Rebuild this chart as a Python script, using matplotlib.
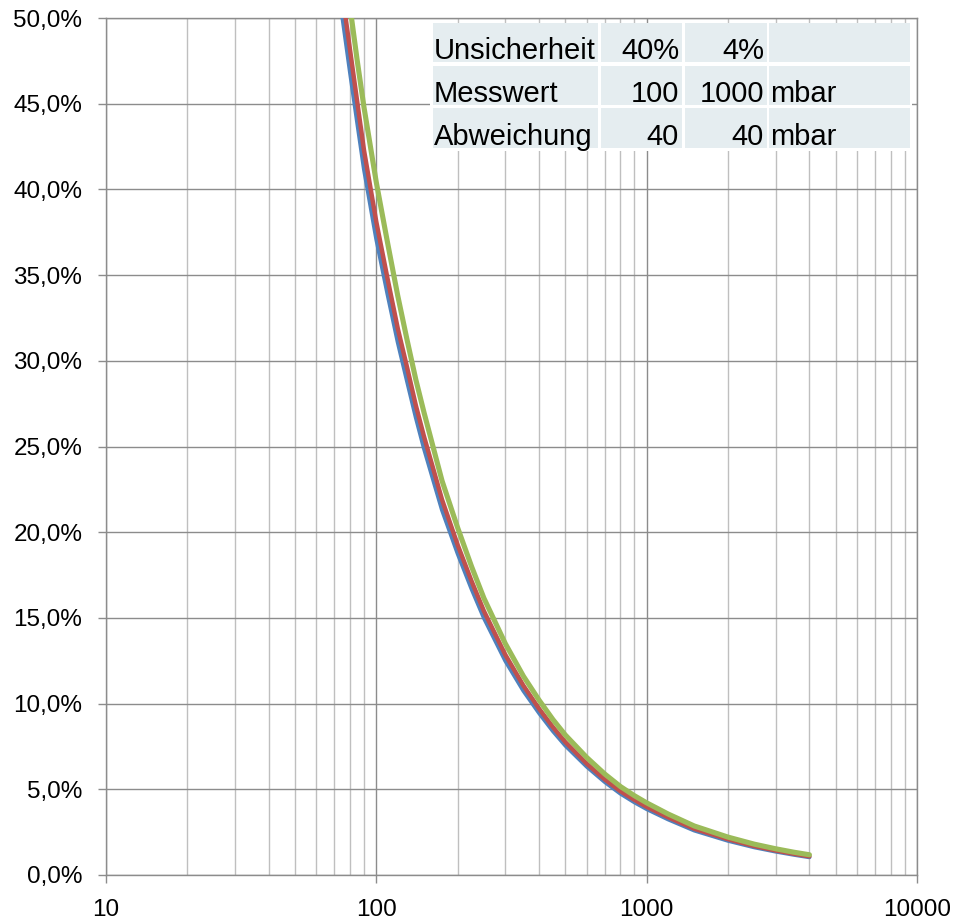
import matplotlib.pyplot as plt
import numpy as np
from matplotlib.patches import Rectangle
from matplotlib.ticker import FixedLocator, FuncFormatter, LogLocator, NullFormatter

plt.rcParams['font.family'] = ['Liberation Sans', 'DejaVu Sans']

# pressure (mbar) and relative uncertainty (%)
druck = [60, 65, 70, 75, 80, 85, 90, 100, 110, 120, 130, 140, 150, 175, 200,
         225, 250, 300, 350, 400, 450, 500, 600, 700, 800, 900, 1000, 1200,
         1500, 2000, 2500, 3000, 3500, 4000]
blau = [62.0, 57.5, 53.5, 50.0, 46.8, 43.9, 41.2, 37.1, 33.9, 31.1, 28.8, 26.7,
        24.9, 21.3, 18.75, 16.7, 15.0, 12.5, 10.75, 9.45, 8.4, 7.56, 6.33, 5.43,
        4.75, 4.25, 3.85, 3.25, 2.6, 2.0, 1.62, 1.37, 1.185, 1.04]
rot = [63.7, 59.1, 54.9, 51.3, 48.1, 45.1, 42.3, 38.1, 34.8, 31.9, 29.6, 27.4,
       25.6, 21.9, 19.25, 17.15, 15.4, 12.85, 11.05, 9.7, 8.63, 7.76, 6.5, 5.58,
       4.89, 4.39, 3.98, 3.37, 2.7, 2.09, 1.69, 1.43, 1.24, 1.09]
gruen = [67.0, 62.1, 57.8, 54.0, 50.6, 47.5, 44.8, 40.4, 36.9, 33.8, 31.2, 28.9,
         27.0, 23.0, 20.25, 18.0, 16.15, 13.5, 11.6, 10.2, 9.07, 8.17, 6.86,
         5.89, 5.16, 4.63, 4.21, 3.56, 2.86, 2.21, 1.8, 1.53, 1.33, 1.18]

# table in the top right corner
tab_label = ["Unsicherheit", "Messwert", "Abweichung"]
tab_a = ["40%", "100", "40"]
tab_b = ["4%", "1000", "40"]
tab_unit = ["", "mbar", "mbar"]

W, H = 956, 923
fig = plt.figure(figsize=(W / 100, H / 100), dpi=100)
ax = fig.add_axes([106 / W, 1 - 875 / H, (917 - 106) / W, (875 - 18) / H])

ax.plot(druck, blau, color='#4f81bd', lw=3.0, solid_capstyle='round', zorder=3)
ax.plot(druck, rot, color='#c0504d', lw=3.2, solid_capstyle='round', zorder=4)
ax.plot(druck, gruen, color='#9bbb59', lw=3.7, solid_capstyle='round', zorder=5)

ax.set_xscale('log')
ax.set_xlim(10, 10000)
ax.set_ylim(0, 50)
ax.xaxis.set_major_locator(FixedLocator([10, 100, 1000, 10000]))
ax.xaxis.set_major_formatter(FuncFormatter(lambda v, p: f"{v:.0f}"))
ax.xaxis.set_minor_locator(LogLocator(base=10, subs=np.arange(2, 10)))
ax.xaxis.set_minor_formatter(NullFormatter())
ax.yaxis.set_major_locator(FixedLocator(np.arange(0, 50.1, 5)))
ax.yaxis.set_major_formatter(FuncFormatter(lambda v, p: f"{v:.1f}%".replace('.', ',')))

ax.grid(True, which='major', color='#8c8c8c', lw=1.0, zorder=1)
ax.grid(True, which='minor', axis='x', color='#bfbfbf', lw=1.0, zorder=1)
ax.tick_params(which='major', length=6, width=1.0, color='#8c8c8c',
               labelsize=17.5, pad=11)
ax.tick_params(which='minor', length=0)
for s in ax.spines.values():
    s.set_color('#8c8c8c')
    s.set_linewidth(1.0)

# table drawn in pixel coordinates of the figure
def fx(x):
    return x / W

def fy(y):
    return 1 - y / H

cols = [(432.7, 598.3), (600.7, 682.3), (685, 766.7), (769, 910)]
rows = [(23.3, 62.3), (65.7, 105), (108.3, 147.7)]
fig.patches.append(Rectangle((fx(430), fy(151)), (912 - 430) / W, (151 - 22.5) / H,
                             transform=fig.transFigure, facecolor='white',
                             edgecolor='none', zorder=6))
for (y0, y1) in rows:
    for (x0, x1) in cols:
        fig.patches.append(Rectangle((fx(x0), fy(y1)), (x1 - x0) / W, (y1 - y0) / H,
                                     transform=fig.transFigure, facecolor='#e5edf0',
                                     edgecolor='none', zorder=7))
for i, (y0, y1) in enumerate(rows):
    yb = fy(y1 - 3)
    kw = dict(fontsize=21, va='baseline', zorder=8)
    fig.text(fx(434), yb, tab_label[i], ha='left', **kw)
    fig.text(fx(679), yb, tab_a[i], ha='right', **kw)
    fig.text(fx(764), yb, tab_b[i], ha='right', **kw)
    fig.text(fx(770), yb, tab_unit[i], ha='left', **kw)

fig.savefig('out.png', dpi=100)
